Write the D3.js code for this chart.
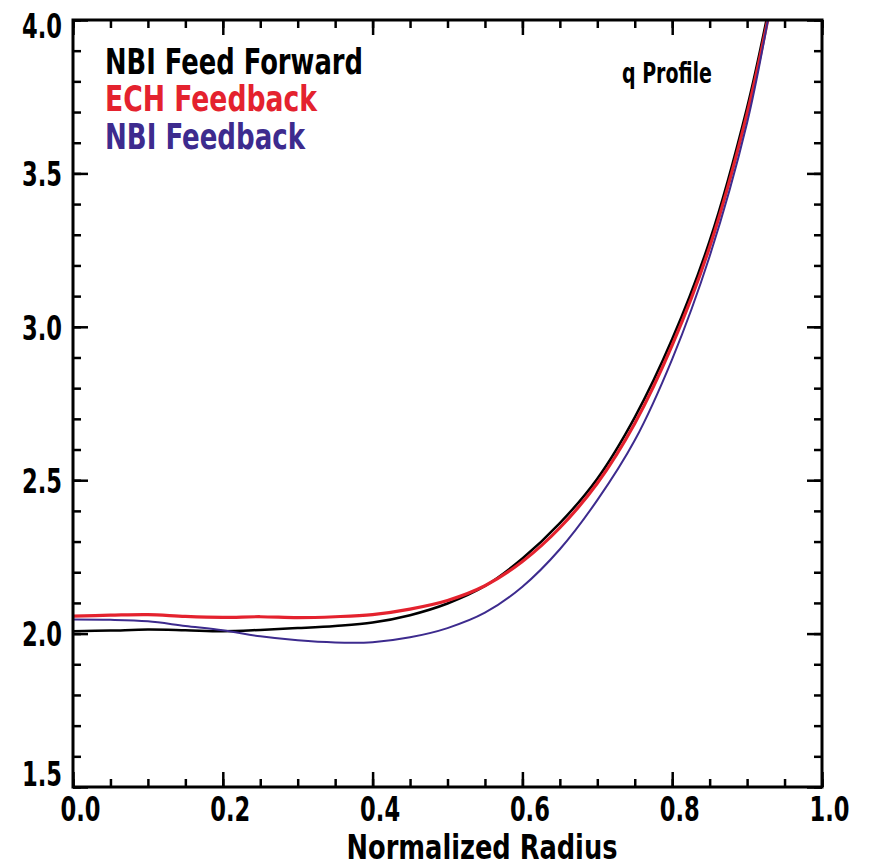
<!DOCTYPE html>
<html>
<head>
<meta charset="utf-8">
<script src="https://cdn.jsdelivr.net/npm/d3@7"></script>
<style>
  body { margin: 0; background: #fff; }
  svg { display: block; }
  text { font-family: "Liberation Sans Narrow", "Arial Narrow", "DejaVu Sans Condensed", sans-serif; font-weight: bold; }
</style>
</head>
<body>
<div id="chart"></div>
<script>
// radius grid shared by the three profiles
const radius = [0, 0.05, 0.1, 0.15, 0.2, 0.25, 0.3, 0.35, 0.4, 0.45, 0.5, 0.55, 0.6, 0.65, 0.7, 0.75, 0.8, 0.85, 0.9, 0.93];
const nbiFeedForward = [2.008, 2.010, 2.013, 2.011, 2.008, 2.012, 2.018, 2.025, 2.036, 2.060, 2.098, 2.155, 2.245, 2.360, 2.505, 2.705, 2.960, 3.280, 3.715, 4.050];
const echFeedback = [2.057, 2.060, 2.062, 2.056, 2.053, 2.055, 2.052, 2.055, 2.062, 2.080, 2.108, 2.156, 2.235, 2.345, 2.490, 2.685, 2.940, 3.260, 3.695, 4.030];
const nbiFeedback = [2.046, 2.045, 2.040, 2.025, 2.011, 1.991, 1.978, 1.971, 1.972, 1.988, 2.018, 2.068, 2.153, 2.275, 2.435, 2.630, 2.895, 3.230, 3.665, 4.030];

const seriesNames = ["NBI Feed Forward", "ECH Feedback", "NBI Feedback"];
const seriesColors = ["#000000", "#e4222e", "#3d2b8e"];
const seriesWidths = [2.5, 3.2, 2];
const legendWidths = [258, 212, 200];

const xMajor = [0, 0.2, 0.4, 0.6, 0.8, 1.0];
const xMinor = d3.range(0, 1.0001, 0.05);
const yMajor = [1.5, 2.0, 2.5, 3.0, 3.5, 4.0];
const yMinor = d3.range(1.5, 4.0001, 0.1);

const width = 870, height = 867;
const margin = { top: 20, right: 48, bottom: 80, left: 73 };

const svg = d3.select("#chart")
  .append("svg")
  .attr("width", width)
  .attr("height", height);

const x = d3.scaleLinear().domain([0, 1]).range([margin.left, width - margin.right]);
const y = d3.scaleLinear().domain([1.5, 4.0]).range([height - margin.bottom, margin.top]);

svg.append("clipPath").attr("id", "plot")
  .append("rect")
  .attr("x", x(0)).attr("y", y(4))
  .attr("width", x(1) - x(0)).attr("height", y(1.5) - y(4));

// curves
const data = [nbiFeedForward, echFeedback, nbiFeedback];
const line = d3.line()
  .x((d, i) => x(radius[i]))
  .y(d => y(d))
  .curve(d3.curveCatmullRom.alpha(0.5));

const curves = svg.append("g").attr("clip-path", "url(#plot)");
for (let i = 0; i < data.length; i++) {
  curves.append("path")
    .attr("d", line(data[i]))
    .attr("fill", "none")
    .attr("stroke", seriesColors[i])
    .attr("stroke-width", seriesWidths[i]);
}

// axes, all ticks point inward
function styleAxis(g) {
  g.selectAll(".domain").remove();
  g.selectAll(".tick line").attr("stroke", "#000").attr("stroke-width", 2.5);
}

const fmt = d3.format(".1f");

const bottom = svg.append("g")
  .attr("transform", `translate(0,${y(1.5)})`)
  .call(d3.axisBottom(x).tickValues(xMajor).tickSize(-15).tickPadding(10).tickFormat(fmt))
  .call(styleAxis);
bottom.selectAll("text")
  .attr("dx", 7)
  .attr("fill", "#000")
  .attr("textLength", 40)
  .attr("lengthAdjust", "spacingAndGlyphs")
  .style("font-size", "34px");
svg.append("g")
  .attr("transform", `translate(0,${y(1.5)})`)
  .call(d3.axisBottom(x).tickValues(xMinor).tickSize(-8).tickFormat(""))
  .call(styleAxis);

svg.append("g")
  .attr("transform", `translate(0,${y(4)})`)
  .call(d3.axisTop(x).tickValues(xMajor).tickSize(-15).tickFormat(""))
  .call(styleAxis);
svg.append("g")
  .attr("transform", `translate(0,${y(4)})`)
  .call(d3.axisTop(x).tickValues(xMinor).tickSize(-8).tickFormat(""))
  .call(styleAxis);

const left = svg.append("g")
  .attr("transform", `translate(${x(0)},0)`)
  .call(d3.axisLeft(y).tickValues(yMajor).tickSize(-15).tickPadding(11).tickFormat(fmt))
  .call(styleAxis);
left.selectAll("text")
  .attr("fill", "#000")
  .attr("textLength", 40)
  .attr("lengthAdjust", "spacingAndGlyphs")
  .style("font-size", "34px")
  .attr("dy", d => d === 4.0 ? "0.52em" : d === 1.5 ? "-0.05em" : "0.36em");
svg.append("g")
  .attr("transform", `translate(${x(0)},0)`)
  .call(d3.axisLeft(y).tickValues(yMinor).tickSize(-8).tickFormat(""))
  .call(styleAxis);

svg.append("g")
  .attr("transform", `translate(${x(1)},0)`)
  .call(d3.axisRight(y).tickValues(yMajor).tickSize(-15).tickFormat(""))
  .call(styleAxis);
svg.append("g")
  .attr("transform", `translate(${x(1)},0)`)
  .call(d3.axisRight(y).tickValues(yMinor).tickSize(-8).tickFormat(""))
  .call(styleAxis);

// frame
svg.append("rect")
  .attr("x", x(0)).attr("y", y(4))
  .attr("width", x(1) - x(0)).attr("height", y(1.5) - y(4))
  .attr("fill", "none")
  .attr("stroke", "#000")
  .attr("stroke-width", 3);

// labels
svg.append("text")
  .attr("x", 482)
  .attr("y", 859)
  .attr("text-anchor", "middle")
  .attr("textLength", 271)
  .attr("lengthAdjust", "spacingAndGlyphs")
  .style("font-size", "34px")
  .text("Normalized Radius");

svg.append("text")
  .attr("x", 622)
  .attr("y", 83)
  .attr("textLength", 90)
  .attr("lengthAdjust", "spacingAndGlyphs")
  .style("font-size", "28px")
  .text("q Profile");

const legendY = [74, 111, 149];
for (let i = 0; i < seriesNames.length; i++) {
  svg.append("text")
    .attr("x", 105)
    .attr("y", legendY[i])
    .attr("fill", seriesColors[i])
    .attr("textLength", legendWidths[i])
    .attr("lengthAdjust", "spacingAndGlyphs")
    .style("font-size", "35px")
    .text(seriesNames[i]);
}
</script>
</body>
</html>
